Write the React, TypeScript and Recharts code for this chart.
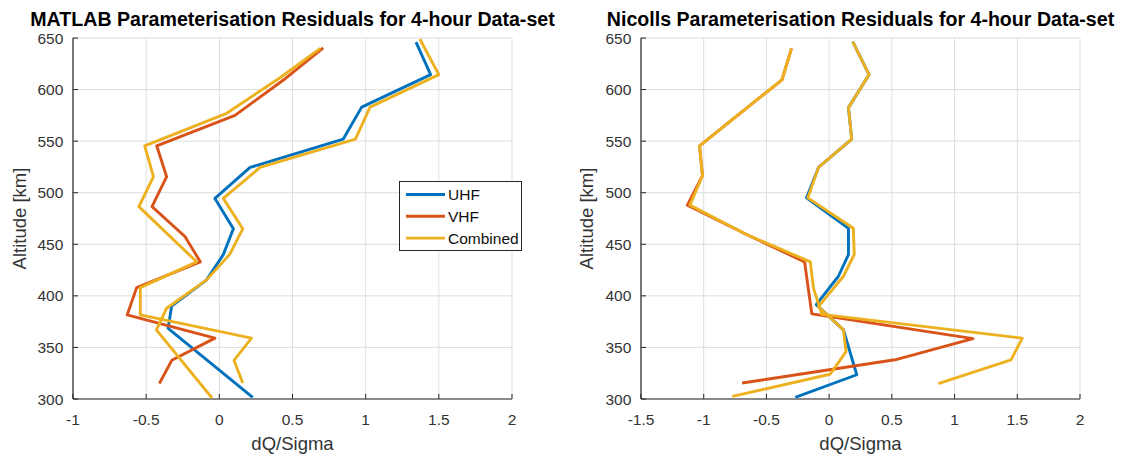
import React from 'react';
import { ScatterChart, Scatter, XAxis, YAxis, CartesianGrid, Legend } from 'recharts';

// ---------- tick labels ----------
const xTicksMatlab = [-1, -0.5, 0, 0.5, 1, 1.5, 2];
const xTicksNicolls = [-1.5, -1, -0.5, 0, 0.5, 1, 1.5, 2];
const altTicks = [300, 350, 400, 450, 500, 550, 600, 650];

const legendNames = ['UHF', 'VHF', 'Combined'];
const titles = [
  'MATLAB Parameterisation Residuals for 4-hour Data-set',
  'Nicolls Parameterisation Residuals for 4-hour Data-set',
];

// ---------- MATLAB panel: [dQ/Sigma, altitude km] ----------
const matlabUHF: [number, number][] = [
  [1.344, 646], [1.444, 614.5], [0.973, 583], [0.847, 552], [0.21, 524.5], [-0.03, 494.5],
  [0.096, 465], [0.027, 440], [-0.087, 415.5], [-0.326, 390], [-0.35, 368.5], [0.228, 301.5],
];
const matlabVHF: [number, number][] = [
  [0.71, 640.5], [0.45, 610.5], [0.107, 575], [-0.428, 545.5], [-0.36, 515.5], [-0.46, 486.5],
  [-0.235, 457.5], [-0.13, 433], [-0.565, 408], [-0.63, 381.5], [-0.03, 359], [-0.325, 337.5],
  [-0.41, 315],
];
const matlabCombinedA: [number, number][] = [
  [1.37, 649], [1.5, 614.5], [1.03, 583], [0.93, 552], [0.278, 524.5], [0.027, 494.5],
  [0.16, 465], [0.07, 440], [-0.087, 415.5], [-0.36, 388], [-0.43, 367], [-0.05, 301],
];
const matlabCombinedB: [number, number][] = [
  [0.69, 640], [0.41, 611], [0.05, 577], [-0.51, 545.5], [-0.45, 515.5], [-0.55, 486.5],
  [-0.155, 433], [-0.54, 408], [-0.54, 381.5], [0.22, 359], [0.1, 337.5], [0.16, 315.5],
];

// ---------- Nicolls panel ----------
const nicollsUHF: [number, number][] = [
  [0.188, 646.5], [0.318, 614.5], [0.154, 582.5], [0.18, 552], [-0.085, 524.5], [-0.18, 495],
  [0.154, 465.5], [0.154, 440], [0.074, 419], [-0.103, 391.5], [0.114, 367], [0.22, 323.5],
  [-0.27, 301.5],
];
const nicollsVHF: [number, number][] = [
  [-0.3, 640], [-0.376, 609.5], [-1.033, 545.5], [-1.01, 516.5], [-1.13, 488], [-0.65, 459],
  [-0.196, 433], [-0.138, 382.5], [1.147, 358.5], [0.525, 338], [-0.694, 315.5],
];
const nicollsCombinedA: [number, number][] = [
  [0.188, 646.5], [0.318, 614.5], [0.154, 582.5], [0.18, 552], [-0.085, 524.5], [-0.17, 495],
  [0.193, 465.5], [0.2, 440], [0.114, 419], [-0.085, 389.5], [0.114, 367], [0.135, 346],
  [0.008, 324], [-0.773, 302.5],
];
const nicollsCombinedB: [number, number][] = [
  [-0.3, 640], [-0.376, 609.5], [-1.033, 545.5], [-1.01, 516.5], [-1.11, 488], [-0.65, 459],
  [-0.15, 433], [-0.125, 407.5], [-0.058, 382], [1.54, 359], [1.45, 338], [0.87, 315],
];

// ---------- styling ----------
const BLUE = '#0072BD';
const ORANGE = '#D95319';
const YELLOW = '#EDB120';
const legendColors = [BLUE, ORANGE, YELLOW];
const AXIS = '#262626';
const TICK_TXT = '#333333';
const GRID = '#dedede';
const FONT = '"Liberation Sans", Arial, Helvetica, sans-serif';
const LW = 2.9;

const toPts = (arr: [number, number][]) => arr.map(([x, y]) => ({ x, y }));
const noDot = () => <g />;

const yLabel = (dx: number) => (props: any) => {
  const vb = props.viewBox || { x: 0, y: 38, width: 73, height: 361 };
  const cx = vb.x + dx;
  const cy = vb.y + vb.height / 2;
  return (
    <text
      x={cx}
      y={cy}
      transform={`rotate(-90, ${cx}, ${cy})`}
      textAnchor="middle"
      fontSize={18.5}
      fill={TICK_TXT}
      fontFamily={FONT}
    >
      Altitude [km]
    </text>
  );
};

const xLabel = (props: any) => {
  const vb = props.viewBox || { x: 73, y: 399, width: 439, height: 57 };
  return (
    <text
      x={vb.x + vb.width / 2}
      y={vb.y + 51}
      textAnchor="middle"
      fontSize={18.5}
      fill={TICK_TXT}
      fontFamily={FONT}
    >
      dQ/Sigma
    </text>
  );
};

const renderLegend = () => (
  <svg width={123} height={70} style={{ display: 'block' }}>
    <rect x={0.5} y={0.5} width={122} height={69} fill="#ffffff" stroke={AXIS} strokeWidth={1} />
    {legendNames.map((name, i) => {
      const cy = 13.5 + i * 21.8;
      return (
        <g key={name}>
          <line x1={7} x2={46} y1={cy} y2={cy} stroke={legendColors[i]} strokeWidth={LW} />
          <text x={49} y={cy + 5.5} fontSize={15.5} fill="#111" fontFamily={FONT}>
            {name}
          </text>
        </g>
      );
    })}
  </svg>
);

type Series = { data: [number, number][]; color: string; name: string };

const Panel = ({
  left,
  width,
  yAxisWidth,
  rightMargin,
  xTicks,
  xDomain,
  series,
  showLegend,
  yLabelDx,
}: {
  left: number;
  width: number;
  yAxisWidth: number;
  rightMargin: number;
  xTicks: number[];
  xDomain: [number, number];
  series: Series[];
  showLegend: boolean;
  yLabelDx: number;
}) => (
  <div style={{ position: 'absolute', left, top: 0 }}>
    <ScatterChart
      width={width}
      height={456}
      margin={{ top: 38, right: rightMargin, bottom: 0, left: 0 }}
      style={{ fontFamily: FONT }}
    >
      <CartesianGrid stroke={GRID} strokeWidth={1} />
      <XAxis
        type="number"
        dataKey="x"
        domain={xDomain}
        ticks={xTicks}
        interval={0}
        allowDataOverflow
        height={57}
        axisLine={{ stroke: AXIS, strokeWidth: 1.2 }}
        tickLine={{ stroke: AXIS }}
        tickSize={-5}
        tickMargin={20}
        tick={{ fill: TICK_TXT, fontSize: 15.5 }}
        label={xLabel}
      />
      <YAxis
        type="number"
        dataKey="y"
        domain={[300, 650]}
        ticks={altTicks}
        interval={0}
        allowDataOverflow
        width={yAxisWidth}
        axisLine={{ stroke: AXIS, strokeWidth: 1.2 }}
        tickLine={{ stroke: AXIS }}
        tickSize={-5}
        tickMargin={14.7}
        tick={{ fill: TICK_TXT, fontSize: 15.5 }}
        label={yLabel(yLabelDx)}
      />
      {series.map((s, i) => (
        <Scatter
          key={i}
          name={s.name}
          data={toPts(s.data)}
          fill="none"
          line={{ stroke: s.color, strokeWidth: LW, strokeLinejoin: 'round' } as any}
          lineType="joint"
          lineJointType="linear"
          shape={noDot}
          isAnimationActive={false}
          legendType="none"
        />
      ))}
      {showLegend && (
        <Legend
          layout="horizontal"
          verticalAlign="middle"
          align="center"
          content={renderLegend}
          wrapperStyle={{ left: 399, top: 181, width: 123, height: 70, right: 'auto', bottom: 'auto' }}
        />
      )}
    </ScatterChart>
  </div>
);

export default function App() {
  return (
    <div
      style={{
        position: 'absolute',
        left: 0,
        top: 0,
        width: 1123,
        height: 456,
        background: '#ffffff',
        fontFamily: FONT,
        overflow: 'hidden',
      }}
    >
      <Panel
        left={0}
        width={560}
        yAxisWidth={73}
        rightMargin={48}
        xTicks={xTicksMatlab}
        xDomain={[-1, 2]}
        showLegend
        yLabelDx={25.5}
        series={[
          { data: matlabUHF, color: BLUE, name: 'UHF' },
          { data: matlabVHF, color: ORANGE, name: 'VHF' },
          { data: matlabCombinedA, color: YELLOW, name: 'Combined' },
          { data: matlabCombinedB, color: YELLOW, name: 'Combined ' },
        ]}
      />
      <Panel
        left={560}
        width={563}
        yAxisWidth={81}
        rightMargin={43}
        xTicks={xTicksNicolls}
        xDomain={[-1.5, 2]}
        showLegend={false}
        yLabelDx={33}
        series={[
          { data: nicollsUHF, color: BLUE, name: 'UHF' },
          { data: nicollsVHF, color: ORANGE, name: 'VHF' },
          { data: nicollsCombinedA, color: YELLOW, name: 'Combined' },
          { data: nicollsCombinedB, color: YELLOW, name: 'Combined ' },
        ]}
      />
      <svg
        width={1123}
        height={456}
        style={{ position: 'absolute', left: 0, top: 0, pointerEvents: 'none' }}
      >
        <text x={292.5} y={25.5} textAnchor="middle" fontSize={19.6} fontWeight="bold" fill="#000" fontFamily={FONT}>
          {titles[0]}
        </text>
        <text x={860.5} y={25.5} textAnchor="middle" fontSize={19.6} fontWeight="bold" fill="#000" fontFamily={FONT}>
          {titles[1]}
        </text>
      </svg>
    </div>
  );
}
